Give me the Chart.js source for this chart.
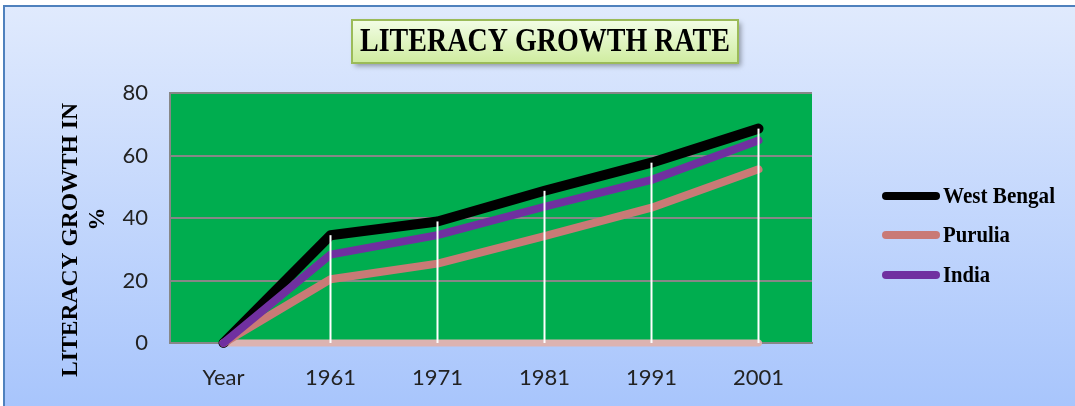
<!DOCTYPE html>
<html>
<head>
<meta charset="utf-8">
<script src="https://cdn.jsdelivr.net/npm/chart.js@4.4.0/dist/chart.umd.min.js"></script>
<style>
  html, body { margin: 0; padding: 0; background: #fff; }
  #wrap { position: relative; width: 1075px; height: 406px; overflow: hidden; }
  #frame {
    position: absolute; left: 3px; top: 5px; width: 1090px; height: 420px;
    border: 2px solid #4f81bd;
    background: linear-gradient(#e0eafd, #a8c5fc 95%);
  }
  canvas { position: absolute; left: 0; top: 0; }
</style>
</head>
<body>
<div id="wrap">
  <div id="frame"></div>
  <canvas id="literacyChart" width="1075" height="406"></canvas>
</div>
<script>
// data
const years = ['Year', '1961', '1971', '1981', '1991', '2001'];
const westBengal = [0, 34.5, 38.9, 48.7, 57.7, 68.6];
const purulia = [0, 20.4, 25.4, 34.2, 43.3, 55.6];
const india = [0, 28.3, 34.5, 43.6, 52.2, 64.8];
const baseLine = [0, 0, 0, 0, 0, 0];
const yTicks = [0, 20, 40, 60, 80];

const serif = '"Liberation Serif", "Times New Roman", serif';

// draws bold serif text squeezed/stretched to a given width
function fitText(ctx, text, x, y, size, width, opts = {}) {
  ctx.save();
  ctx.font = 'bold ' + size + 'px ' + serif;
  const w = ctx.measureText(text).width;
  ctx.translate(x, y);
  if (opts.rotate) ctx.rotate(-Math.PI / 2);
  ctx.scale(width ? width / w : 1, 1);
  ctx.textAlign = opts.align || 'center';
  ctx.textBaseline = 'middle';
  ctx.fillStyle = '#000';
  ctx.fillText(text, 0, 0);
  ctx.restore();
}

// green plot background
const plotBackground = {
  id: 'plotBackground',
  beforeDraw(chart) {
    const { ctx, chartArea: a } = chart;
    ctx.save();
    ctx.fillStyle = '#00ad4f';
    ctx.fillRect(a.left, a.top, a.right - a.left, a.bottom - a.top);
    ctx.restore();
  }
};

// white drop lines from the top series value down to zero
const dropLines = {
  id: 'dropLines',
  afterDatasetsDraw(chart) {
    const { ctx, scales: { x, y } } = chart;
    ctx.save();
    ctx.strokeStyle = '#ffffff';
    ctx.lineWidth = 2;
    for (let i = 1; i < years.length; i++) {
      const top = Math.max(westBengal[i], purulia[i], india[i]);
      const px = x.getPixelForValue(i);
      ctx.beginPath();
      ctx.moveTo(px, y.getPixelForValue(top));
      ctx.lineTo(px, y.getPixelForValue(0));
      ctx.stroke();
    }
    ctx.restore();
  }
};

// title box, rotated axis title and the legend
const decorations = {
  id: 'decorations',
  afterDraw(chart) {
    const ctx = chart.ctx;

    // title box
    ctx.save();
    ctx.shadowColor = 'rgba(0,0,0,0.35)';
    ctx.shadowBlur = 5;
    ctx.shadowOffsetX = 3;
    ctx.shadowOffsetY = 3;
    const g = ctx.createLinearGradient(0, 20, 0, 63);
    g.addColorStop(0, '#f2fde6');
    g.addColorStop(1, '#cfec9f');
    ctx.fillStyle = g;
    ctx.fillRect(352, 20, 386, 43);
    ctx.shadowColor = 'transparent';
    ctx.strokeStyle = '#9bbb59';
    ctx.lineWidth = 2;
    ctx.strokeRect(352, 20, 386, 43);
    ctx.restore();
    fitText(ctx, 'LITERACY GROWTH RATE', 545, 42, 33, 370);

    // y axis title
    fitText(ctx, 'LITERACY GROWTH IN', 71, 240, 23, 274, { rotate: true });
    fitText(ctx, '%', 98, 219, 23, 0, { rotate: true });

    // legend
    const rows = [196, 235, 275];
    const widths = [112, 67, 47];
    chart.data.datasets.filter(d => d.label !== 'Base').forEach((d, i) => {
      ctx.save();
      ctx.strokeStyle = d.borderColor;
      ctx.lineWidth = 8;
      ctx.lineCap = 'round';
      ctx.beginPath();
      ctx.moveTo(886, rows[i]);
      ctx.lineTo(936, rows[i]);
      ctx.stroke();
      ctx.restore();
      fitText(ctx, d.label, 943, rows[i] + 1, 24, widths[i], { align: 'left' });
    });
  }
};

const lineStyle = {
  fill: false,
  tension: 0,
  pointRadius: 0,
  clip: false,
  borderCapStyle: 'round',
  borderJoinStyle: 'round'
};

new Chart(document.getElementById('literacyChart'), {
  type: 'line',
  data: {
    labels: years,
    datasets: [
      { ...lineStyle, label: 'West Bengal', data: westBengal, borderColor: '#000000', borderWidth: 10, order: 2 },
      { ...lineStyle, label: 'Purulia', data: purulia, borderColor: '#c97a76', borderWidth: 8, order: 1 },
      { ...lineStyle, label: 'India', data: india, borderColor: '#7030a0', borderWidth: 8, order: 0 },
      { ...lineStyle, label: 'Base', data: baseLine, borderColor: '#dcb3b1', borderWidth: 7, order: 3 }
    ]
  },
  options: {
    responsive: false,
    animation: false,
    layout: { padding: { top: 93, right: 263, left: 0, bottom: 0 } },
    plugins: {
      legend: { display: false },
      tooltip: { enabled: false }
    },
    scales: {
      x: {
        offset: true,
        afterFit: s => { s.height = 63; },
        grid: { display: false, drawTicks: false },
        border: { display: true, color: '#878787', width: 2 },
        ticks: { color: '#222', padding: 22, font: { family: 'Lato', size: 22 } }
      },
      y: {
        min: 0,
        max: 80,
        afterFit: s => { s.width = 170; },
        afterBuildTicks: s => { s.ticks = yTicks.map(v => ({ value: v })); },
        grid: { color: '#878787', lineWidth: 2, drawTicks: false },
        border: { display: true, color: '#878787', width: 2 },
        ticks: { color: '#222', padding: 22, font: { family: 'Lato', size: 22 } }
      }
    }
  },
  plugins: [plotBackground, dropLines, decorations]
});
</script>
</body>
</html>
